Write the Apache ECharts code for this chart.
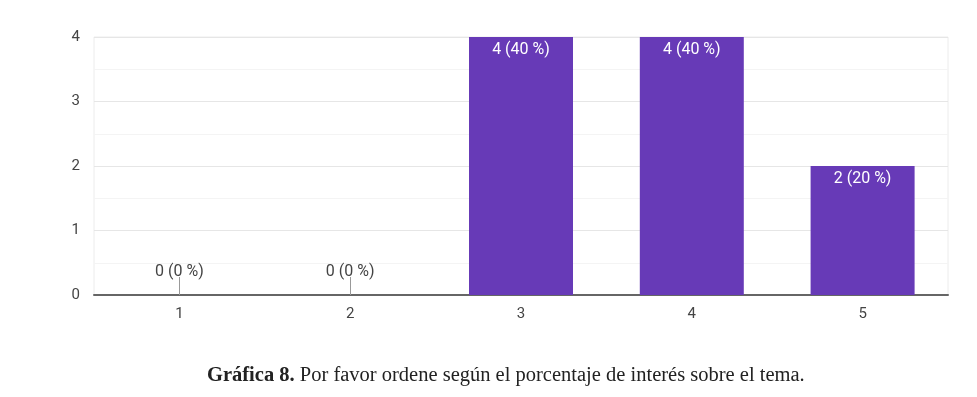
<!DOCTYPE html>
<html>
<head>
<meta charset="utf-8">
<script src="https://cdn.jsdelivr.net/npm/echarts@6/dist/echarts.min.js"></script>
<style>
  html, body { margin: 0; padding: 0; background: #fff; }
  #main { width: 977px; height: 397px; }
</style>
</head>
<body>
<div id="main"></div>
<script>
  var categories = ['1', '2', '3', '4', '5'];
  var counts = [0, 0, 4, 4, 2];
  var percents = [0, 0, 40, 40, 20];
  var yTicks = [0, 1, 2, 3, 4];
  var caption = 'Por favor ordene según el porcentaje de interés sobre el tema.';

  var myChart = echarts.init(document.getElementById('main'));

  // cada barra lleva su etiqueta "n (p %)"; las de cero van encima en gris
  var barData = counts.map(function (v, i) {
    var txt = v + ' (' + percents[i] + ' %)';
    if (v === 0) {
      return { value: v, label: { position: 'top', distance: 15, color: '#444', formatter: txt } };
    }
    return { value: v, label: { position: 'insideTop', distance: 5, color: '#fff', formatter: txt } };
  });

  myChart.setOption({
    animation: false,
    textStyle: { fontFamily: 'Roboto' },
    title: {
      text: '{b|Gráfica 8.} ' + caption,
      left: 207,
      top: 365,
      padding: 0,
      textStyle: {
        fontFamily: 'Liberation Serif',
        fontSize: 20.5,
        fontWeight: 'normal',
        color: '#222',
        rich: {
          b: { fontFamily: 'Liberation Serif', fontSize: 20.5, fontWeight: 'bold', color: '#222' }
        }
      }
    },
    grid: {
      left: 94,
      right: 29,
      top: 37,
      bottom: 102,
      show: true,
      borderColor: '#ececec',
      borderWidth: 1
    },
    xAxis: {
      type: 'category',
      data: categories,
      axisLine: { lineStyle: { color: '#666', width: 2 } },
      axisTick: { show: true, inside: true, length: 18, alignWithLabel: true, lineStyle: { color: '#999' } },
      axisLabel: { color: '#444', fontSize: 15, margin: 12 }
    },
    yAxis: {
      type: 'value',
      min: yTicks[0],
      max: yTicks[yTicks.length - 1],
      interval: 1,
      axisLine: { show: false },
      axisTick: { show: false },
      axisLabel: { color: '#444', fontSize: 15, margin: 14 },
      splitLine: { lineStyle: { color: '#e6e6e6' } },
      minorTick: { show: false, splitNumber: 2 },
      minorSplitLine: { show: true, lineStyle: { color: '#f4f4f4' } }
    },
    series: [
      {
        type: 'bar',
        data: barData,
        barWidth: 104,
        itemStyle: { color: '#673ab7' },
        label: { show: true, fontSize: 16 }
      }
    ]
  });
</script>
</body>
</html>
